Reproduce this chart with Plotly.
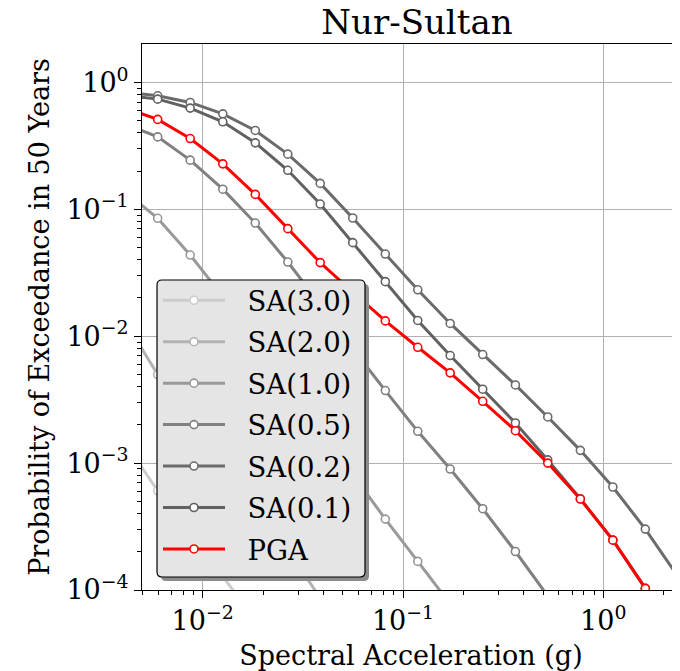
import plotly.graph_objects as go

# Spectral acceleration levels (g) of the hazard curve points
sa_g = [0.0041, 0.00596, 0.00866, 0.0126, 0.0183, 0.0266, 0.0386, 0.0561, 0.0816,
        0.1185, 0.172, 0.250, 0.364, 0.528, 0.768, 1.116, 1.621, 2.356, 3.42]

# Probability of exceedance in 50 years
poe_sa30 = [0.00145, 0.000605, 0.000282, 0.000129, 0.0000581]
poe_sa20 = [0.0131, 0.00498, 0.00228, 0.00103, 0.000461, 0.000207, 0.0000866]
poe_sa10 = [0.138, 0.0849, 0.0436, 0.0206, 0.00925, 0.00412, 0.00184, 0.00081,
            0.000362, 0.000168, 0.0000777]
poe_sa05 = [0.471, 0.372, 0.244, 0.144, 0.0779, 0.0384, 0.0178, 0.0080, 0.00373,
            0.00178, 0.000898, 0.000437, 0.000201, 0.0000898]
poe_sa02 = [0.838, 0.784, 0.695, 0.565, 0.418, 0.272, 0.160, 0.0854, 0.0444, 0.0232,
            0.0126, 0.00717, 0.00413, 0.00231, 0.00126, 0.000648, 0.000302,
            0.000128, 0.0000467]
poe_sa01 = [0.794, 0.738, 0.627, 0.489, 0.334, 0.203, 0.110, 0.0546, 0.0269, 0.0133,
            0.00704, 0.00382, 0.00207, 0.00106, 0.000523, 0.000248, 0.000103,
            0.0000337]
poe_pga = [0.627, 0.511, 0.361, 0.228, 0.131, 0.0704, 0.0380, 0.0223, 0.0132, 0.00818,
           0.00514, 0.00307, 0.00180, 0.00100, 0.000521, 0.000247, 0.000103,
           0.0000337]

series_names = ["SA(3.0)", "SA(2.0)", "SA(1.0)", "SA(0.5)", "SA(0.2)", "SA(0.1)", "PGA"]
series_vals = [poe_sa30, poe_sa20, poe_sa10, poe_sa05, poe_sa02, poe_sa01, poe_pga]
series_colors = ["#cccccc", "#b3b3b3", "#999999", "#808080", "#6b6b6b", "#616161", "#ff0000"]

x_tick_vals = [0.01, 0.1, 1]
x_tick_text = ["10<sup>−2</sup>", "10<sup>−1</sup>", "10<sup>0</sup>"]
y_tick_vals = [1e-4, 1e-3, 1e-2, 1e-1, 1]
y_tick_text = ["10<sup>−4</sup>", "10<sup>−3</sup>", "10<sup>−2</sup>", "10<sup>−1</sup>", "10<sup>0</sup>"]
x_minor = [m * 10.0 ** e for e in (-3, -2, -1, 0) for m in range(2, 10)]
y_minor = [m * 10.0 ** e for e in (-4, -3, -2, -1) for m in range(2, 10)]

FONT = "DejaVu Serif"
PAD = "\u00a0\u00a0"  # gap between legend symbol and label

# the page body adds an 8 px margin, so the figure is 8 px smaller each way
W, H = 672, 663

fig = go.Figure()
for name, vals, col in zip(series_names, series_vals, series_colors):
    fig.add_trace(go.Scatter(
        x=sa_g[:len(vals)], y=vals, name=PAD + name, mode="lines+markers",
        legendgroup=name,
        line=dict(color=col, width=3),
        marker=dict(symbol="circle", size=8, color="white",
                    line=dict(color=col, width=1.6)),
    ))

# legend frame (rounded, with shadow) drawn as shapes
x0, x1 = 0.0279, 0.4145
y0, y1 = 0.0238, 0.5678
rx, ry = 5 / 538, 5 / 546


def rpath(a0, a1, b0, b1):
    return (f"M {a0+rx},{b0} L {a1-rx},{b0} Q {a1},{b0} {a1},{b0+ry} "
            f"L {a1},{b1-ry} Q {a1},{b1} {a1-rx},{b1} L {a0+rx},{b1} "
            f"Q {a0},{b1} {a0},{b1-ry} L {a0},{b0+ry} Q {a0},{b0} {a0+rx},{b0} Z")


dx, dy = 4 / 538, 4 / 546
shapes = [
    dict(type="path", xref="paper", yref="paper", layer="above",
         path=rpath(x0 + dx, x1 + dx, y0 - dy, y1 - dy),
         fillcolor="#8c8c8c", line=dict(width=0)),
    dict(type="path", xref="paper", yref="paper", layer="above",
         path=rpath(x0, x1, y0, y1),
         fillcolor="#e5e5e5", line=dict(color="black", width=1.2)),
]

fig.update_layout(
    width=W, height=H,
    margin=dict(l=134, r=0, t=36, b=81, pad=0, autoexpand=False),
    paper_bgcolor="white", plot_bgcolor="white",
    font=dict(family=FONT, size=27, color="black"),
    title=dict(text="Nur-Sultan", x=0.511, xref="paper", xanchor="center",
               y=1 - 14 / H, yref="container", yanchor="middle",
               font=dict(family=FONT, size=34, color="black")),
    xaxis=dict(type="log", range=[-2.3031, 0.3829], showgrid=True, automargin=False,
               gridcolor="#b0b0b0", gridwidth=1,
               showline=True, linecolor="black", linewidth=1, mirror=True,
               ticks="outside", ticklen=7, tickwidth=1, tickcolor="black",
               tickmode="array", tickvals=x_tick_vals, ticktext=x_tick_text,
               tickfont=dict(family=FONT, size=27),
               minor=dict(tickmode="array", tickvals=x_minor, ticks="outside",
                          ticklen=4, tickwidth=1, tickcolor="black", showgrid=False),
               title=dict(text="Spectral Acceleration (g)", standoff=11,
                          font=dict(family=FONT, size=27)),
               zeroline=False),
    yaxis=dict(type="log", range=[-4, 0.3025], showgrid=True, automargin=False,
               gridcolor="#b0b0b0", gridwidth=1,
               showline=True, linecolor="black", linewidth=1,
               ticks="outside", ticklen=7, tickwidth=1, tickcolor="black",
               tickmode="array", tickvals=y_tick_vals, ticktext=y_tick_text,
               tickfont=dict(family=FONT, size=27),
               minor=dict(tickmode="array", tickvals=y_minor, ticks="outside",
                          ticklen=4, tickwidth=1, tickcolor="black", showgrid=False),
               title=dict(text="Probability of Exceedance in 50 Years", standoff=8,
                          font=dict(family=FONT, size=27)),
               zeroline=False),
    legend=dict(x=0.0297, y=0.5753, xanchor="left", yanchor="top",
                bgcolor="rgba(0,0,0,0)", borderwidth=0,
                font=dict(family=FONT, size=27.5, color="black"),
                itemwidth=62, tracegroupgap=2.7, traceorder="grouped"),
    shapes=shapes,
    showlegend=True,
)

fig.write_html("out.html")
